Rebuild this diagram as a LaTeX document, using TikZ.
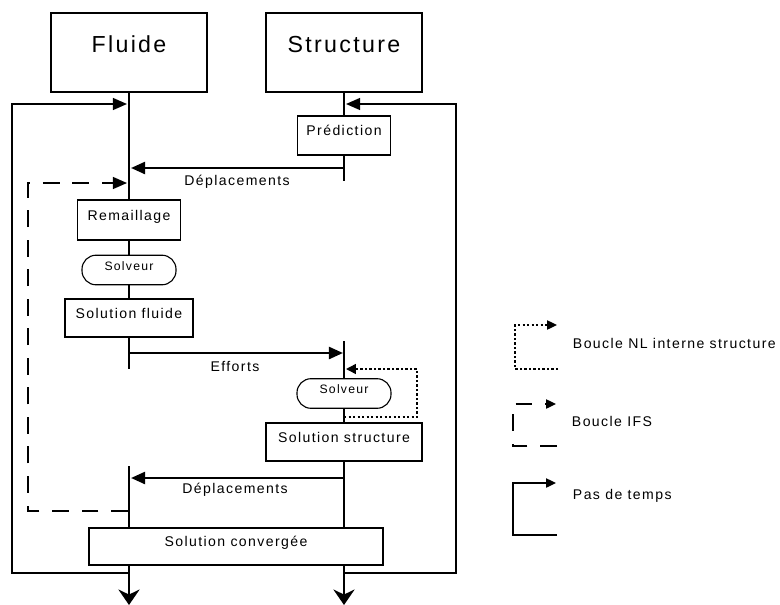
\documentclass[tikz,border=0pt]{standalone}
\usepackage{fontspec}
\setmainfont{Liberation Sans}[LetterSpace=10]
\usepackage{tikz}
\usetikzlibrary{arrows.meta}

\begin{document}
\begin{tikzpicture}[
    x=0.025cm, y=-0.025cm,
    box/.style={rectangle, draw, line width=0.8pt, fill=white, inner sep=0pt, text height=1.6ex, text depth=1.6ex, font=\fontsize{10}{12}\selectfont},
    head/.style={box, minimum width=3.9cm, minimum height=1.975cm, font=\fontsize{16.5}{19}\selectfont},
    solv/.style={box, rounded corners=10pt, minimum width=2.35cm, minimum height=0.74cm, font=\fontsize{8.7}{10}\selectfont},
    axis/.style={line width=1.8pt},
    flow/.style={line width=1.8pt, -{Triangle[length=10pt,width=8.5pt]}},
    pas/.style={line width=1pt, -{Triangle[length=10pt,width=8.5pt]}},
    ifs/.style={pas, dash pattern=on 12pt off 9pt},
    nl/.style={line width=1pt, dash pattern=on 1.6pt off 1.6pt, -{Triangle[length=7pt,width=7pt]}},
    lgd/.style={-{Triangle[length=7pt,width=6.5pt]}},
    lbl/.style={anchor=base, font=\fontsize{10}{12}\selectfont}
]
    \useasboundingbox (0,0) rectangle (780,604);

    % Codes
    \node[head] (fl) at (129,52.5) {Fluide};
    \node[head] (st) at (344,52.5) {Structure};

    % Fluid side
    \node[box, minimum width=2.575cm, minimum height=1cm] (rem) at (129,220) {Remaillage};
    \node[solv] (solvf) at (129,270) {Solveur};
    \node[box, minimum width=3.2cm, minimum height=0.95cm] (solf) at (129,318) {Solution fluide};

    % Structure side
    \node[box, minimum width=2.325cm, minimum height=0.975cm] (pred) at (344,135.5) {Prédiction};
    \node[solv] (solvs) at (344,393.5) {Solveur};
    \node[box, minimum width=3.9cm, minimum height=0.95cm] (sols) at (344,442) {Solution structure};

    % Convergence
    \node[box, minimum width=7.35cm, minimum height=0.925cm] (conv) at (236,546.5) {Solution convergée};

    % Free ends on the axes
    \coordinate (f1) at (129,369);
    \coordinate (f2) at (129,466);
    \coordinate (f3) at (129,605);
    \coordinate (s1) at (344,181);
    \coordinate (s2) at (344,341);
    \coordinate (s3) at (344,605);

    \draw[axis] (fl.south) -- (rem.north);
    \draw[axis] (rem.south) -- (solvf.north);
    \draw[axis] (solvf.south) -- (solf.north);
    \draw[axis] (solf.south) -- (f1);
    \draw[axis] (f2) -- (f2 |- conv.north);
    \draw[axis, -{Stealth[length=11pt,width=15pt]}] (f2 |- conv.south) -- (f3);

    \draw[axis] (st.south) -- (pred.north);
    \draw[axis] (pred.south) -- (s1);
    \draw[axis] (s2) -- (solvs.north);
    \draw[axis] (solvs.south) -- (sols.north);
    \draw[axis] (sols.south) -- (sols.south |- conv.north);
    \draw[axis, -{Stealth[length=11pt,width=15pt]}] (sols.south |- conv.south) -- (s3);

    % Exchanges
    \coordinate (d1a) at (344,168);
    \coordinate (d1b) at (131,168);
    \draw[flow] (d1a) -- (d1b);
    \node[lbl] (dep1) at (237,185) {Déplacements};

    \coordinate (efa) at (129,353);
    \coordinate (efb) at (343,353);
    \draw[flow] (efa) -- (efb);
    \node[lbl] (eff) at (235,371) {Efforts};

    \coordinate (d2a) at (344,478);
    \coordinate (d2b) at (131,478);
    \draw[flow] (d2a) -- (d2b);
    \node[lbl] (dep2) at (235,493) {Déplacements};

    % Loops
    \coordinate (pf) at (129,573);
    \coordinate (pft) at (127,104);
    \draw[pas] (pf) -- ++(-117,0) |- (pft);
    \coordinate (ps) at (344,573);
    \coordinate (pst) at (346,104);
    \draw[pas] (ps) -- ++(112,0) |- (pst);

    \coordinate (ib) at (128,511);
    \coordinate (it) at (127,183);
    \draw[ifs] (ib) -- ++(-100,0) |- (it);

    \coordinate (nb) at (344,417);
    \coordinate (nt) at (346,369);
    \draw[nl] (nb) -- ++(73,0) |- (nt);

    % Legend
    \coordinate (lnb) at (558,369);
    \coordinate (lnt) at (557,325);
    \draw[nl, lgd] (lnb) -- ++(-43,0) |- (lnt);
    \node[lbl, anchor=base west] (lgnl) at (568,348) {Boucle NL interne structure};

    \coordinate (lib) at (557,446);
    \coordinate (lit) at (556,404);
    \draw[ifs, lgd] (lib) -- ++(-44,0) |- (lit);
    \node[lbl, anchor=base west] (lgifs) at (567,426) {Boucle IFS};

    \coordinate (lpb) at (557,535);
    \coordinate (lpt) at (556,483);
    \draw[pas, lgd] (lpb) -- ++(-44,0) |- (lpt);
    \node[lbl, anchor=base west] (lgpas) at (568,499) {Pas de temps};
\end{tikzpicture}
\end{document}
